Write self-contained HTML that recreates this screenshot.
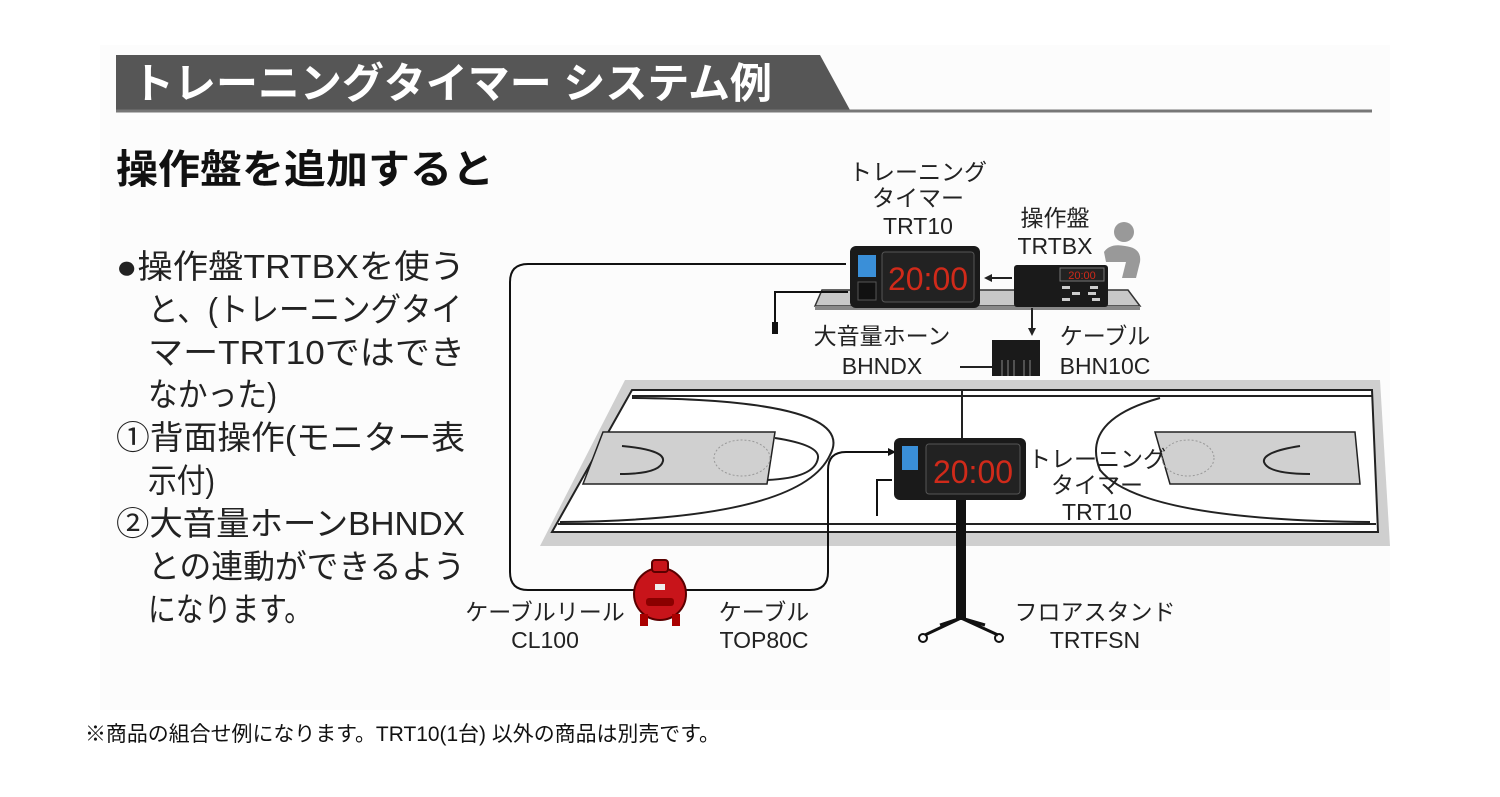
<!DOCTYPE html>
<html><head><meta charset="utf-8"><style>
html,body{margin:0;padding:0;background:#fff;width:1500px;height:797px;overflow:hidden}
svg{display:block}
text{font-family:"Liberation Sans","Noto Sans CJK JP",sans-serif}
</style></head><body>
<svg width="1500" height="797" viewBox="0 0 1500 797" xmlns="http://www.w3.org/2000/svg">
<rect x="100" y="45" width="1290" height="665" fill="#fcfcfc"/>
<!-- header -->
<polygon points="116,55 820,55 850,110 116,110" fill="#565656"/>
<line x1="116" y1="111" x2="1372" y2="111" stroke="#777" stroke-width="3"/>
<text x="132" y="98" font-size="42" font-weight="bold" fill="#fff" textLength="640" lengthAdjust="spacingAndGlyphs">トレーニングタイマー システム例</text>
<text x="116" y="183" font-size="40" font-weight="bold" fill="#111" textLength="378" lengthAdjust="spacingAndGlyphs">操作盤を追加すると</text>
<!-- left text -->
<g font-size="33" fill="#222" lengthAdjust="spacingAndGlyphs">
<text x="116" y="278" textLength="349" lengthAdjust="spacingAndGlyphs">●操作盤TRTBXを使う</text>
<text x="148" y="321" textLength="314" lengthAdjust="spacingAndGlyphs">と、(トレーニングタイ</text>
<text x="148" y="364" textLength="317" lengthAdjust="spacingAndGlyphs">マーTRT10ではでき</text>
<text x="148" y="406" textLength="129" lengthAdjust="spacingAndGlyphs">なかった)</text>
<text x="116" y="449" textLength="349" lengthAdjust="spacingAndGlyphs">①背面操作(モニター表</text>
<text x="148" y="492" textLength="67" lengthAdjust="spacingAndGlyphs">示付)</text>
<text x="116" y="535" textLength="349" lengthAdjust="spacingAndGlyphs">②大音量ホーンBHNDX</text>
<text x="148" y="578" textLength="317" lengthAdjust="spacingAndGlyphs">との連動ができるよう</text>
<text x="148" y="621" textLength="164" lengthAdjust="spacingAndGlyphs">になります。</text>
</g>
<text x="85" y="741" font-size="21" fill="#111" textLength="635" lengthAdjust="spacingAndGlyphs">※商品の組合せ例になります。TRT10(1台) 以外の商品は別売です。</text>

<!-- court -->
<polygon points="625,380 1380,380 1390,546 540,546" fill="#cfcfcf"/>
<polygon points="632,390 1372,390 1378,532 552,532" fill="#fff" stroke="#222" stroke-width="2"/>
<line x1="632" y1="396" x2="1372" y2="396" stroke="#222" stroke-width="2"/>
<line x1="558" y1="524" x2="1376" y2="524" stroke="#222" stroke-width="2"/>
<line x1="962" y1="390" x2="962" y2="440" stroke="#222" stroke-width="2"/>
<polygon points="603,432 775,432 767,484 583,484" fill="#d0d0d0" stroke="#222" stroke-width="1.5"/>
<polygon points="1155,432 1355,432 1360,484 1170,484" fill="#d0d0d0" stroke="#222" stroke-width="1.5"/>
<path d="M632,398 Q860,400 830,455 Q800,520 560,522" fill="none" stroke="#222" stroke-width="2"/>
<path d="M1160,398 Q1080,420 1100,470 Q1140,520 1370,522" fill="none" stroke="#222" stroke-width="2"/>
<path d="M775,438 Q820,445 818,458 Q815,478 767,480" fill="none" stroke="#222" stroke-width="2"/>
<path d="M622,446 Q665,450 663,461 Q660,474 620,474" fill="none" stroke="#222" stroke-width="2"/>
<path d="M1300,446 Q1262,452 1264,462 Q1268,474 1310,474" fill="none" stroke="#222" stroke-width="2"/>
<ellipse cx="742" cy="458" rx="28" ry="18" fill="none" stroke="#999" stroke-dasharray="2,2"/>
<ellipse cx="1188" cy="458" rx="26" ry="18" fill="none" stroke="#999" stroke-dasharray="2,2"/>

<!-- table -->
<polygon points="822,290 1128,290 1140,306 815,306" fill="#c8c8c8" stroke="#333" stroke-width="1.5"/>
<rect x="815" y="306" width="325" height="4" fill="#888"/>
<!-- top timer -->
<rect x="850" y="246" width="130" height="62" rx="6" fill="#1a1a1a"/>
<rect x="858" y="255" width="18" height="22" fill="#3a8fd8"/>
<rect x="858" y="282" width="18" height="18" fill="#111" stroke="#555"/>
<rect x="882" y="252" width="92" height="50" rx="3" fill="#222" stroke="#555"/>
<text x="928" y="290" font-size="32" fill="#d02a1a" text-anchor="middle" font-family="Liberation Mono">20:00</text>
<!-- TRTBX -->
<rect x="1014" y="265" width="94" height="42" rx="3" fill="#1a1a1a"/>
<rect x="1060" y="268" width="44" height="13" fill="#222" stroke="#777"/>
<text x="1082" y="279" font-size="11" fill="#d02a1a" text-anchor="middle">20:00</text>
<g fill="#ccc"><rect x="1062" y="286" width="8" height="3"/><rect x="1090" y="286" width="8" height="3"/><rect x="1072" y="292" width="8" height="3"/><rect x="1088" y="292" width="8" height="3"/><rect x="1062" y="298" width="8" height="3"/><rect x="1092" y="298" width="8" height="3"/></g>
<!-- person -->
<circle cx="1124" cy="232" r="10" fill="#999"/>
<path d="M1104,252 Q1110,243 1125,246 Q1142,248 1140,262 L1136,278 L1122,278 L1126,262 L1106,262 Z" fill="#999"/>
<!-- arrows -->
<line x1="1012" y1="278" x2="990" y2="278" stroke="#222" stroke-width="2"/>
<polygon points="984,278 992,274 992,282" fill="#222"/>
<line x1="1032" y1="308" x2="1032" y2="330" stroke="#222" stroke-width="2"/>
<polygon points="1032,336 1028,328 1036,328" fill="#222"/>
<!-- horn -->
<rect x="992" y="340" width="48" height="36" fill="#1a1a1a"/>
<g stroke="#888"><line x1="1002" y1="360" x2="1002" y2="376"/><line x1="1008" y1="360" x2="1008" y2="376"/><line x1="1014" y1="360" x2="1014" y2="376"/><line x1="1024" y1="360" x2="1024" y2="376"/><line x1="1030" y1="360" x2="1030" y2="376"/></g>
<line x1="960" y1="367" x2="992" y2="367" stroke="#222" stroke-width="2"/>
<!-- cables -->
<path d="M846,264 L528,264 Q510,264 510,282 L510,572 Q510,590 528,590 L810,590 Q828,590 828,572 L828,470 Q828,452 846,452 L890,452" fill="none" stroke="#111" stroke-width="2"/>
<polygon points="896,452 888,448 888,456" fill="#111"/>
<path d="M848,292 L775,292 L775,332" fill="none" stroke="#111" stroke-width="2"/>
<rect x="772" y="322" width="6" height="12" fill="#111"/>
<!-- court timer on stand -->
<rect x="956" y="500" width="10" height="120" fill="#111"/>
<path d="M961,618 L925,635 M961,618 L998,635 M961,618 L940,625 M961,618 L985,625" stroke="#111" stroke-width="3" fill="none"/>
<circle cx="923" cy="638" r="4" fill="none" stroke="#111" stroke-width="2"/>
<circle cx="999" cy="638" r="4" fill="none" stroke="#111" stroke-width="2"/>
<rect x="894" y="438" width="132" height="62" rx="6" fill="#1a1a1a"/>
<rect x="902" y="446" width="16" height="24" fill="#3a8fd8"/>
<rect x="926" y="444" width="94" height="50" rx="3" fill="#222" stroke="#555"/>
<text x="973" y="483" font-size="32" fill="#d02a1a" text-anchor="middle" font-family="Liberation Mono">20:00</text>
<path d="M892,480 L877,480 L877,516" fill="none" stroke="#111" stroke-width="2"/>
<!-- reel -->
<circle cx="660" cy="594" r="26" fill="#c8141a" stroke="#5a0000" stroke-width="2"/>
<rect x="652" y="560" width="16" height="12" rx="3" fill="#c8141a" stroke="#5a0000" stroke-width="2"/>
<rect x="646" y="598" width="28" height="8" rx="3" fill="#8a0000"/>
<rect x="655" y="584" width="10" height="6" fill="#eee"/>
<rect x="640" y="614" width="8" height="12" fill="#a00"/><rect x="672" y="614" width="8" height="12" fill="#a00"/>

<!-- labels -->
<g font-size="23" fill="#222" text-anchor="middle">
<text x="918" y="180">トレーニング</text>
<text x="918" y="206">タイマー</text>
<text x="918" y="234">TRT10</text>
<text x="1055" y="226">操作盤</text>
<text x="1055" y="254">TRTBX</text>
<text x="882" y="344">大音量ホーン</text>
<text x="882" y="374">BHNDX</text>
<text x="1105" y="344">ケーブル</text>
<text x="1105" y="374">BHN10C</text>
<text x="1097" y="467">トレーニング</text>
<text x="1097" y="493">タイマー</text>
<text x="1097" y="520">TRT10</text>
<text x="545" y="620">ケーブルリール</text>
<text x="545" y="648">CL100</text>
<text x="764" y="620">ケーブル</text>
<text x="764" y="648">TOP80C</text>
<text x="1095" y="620">フロアスタンド</text>
<text x="1095" y="648">TRTFSN</text>
</g>
</svg>
</body></html>
